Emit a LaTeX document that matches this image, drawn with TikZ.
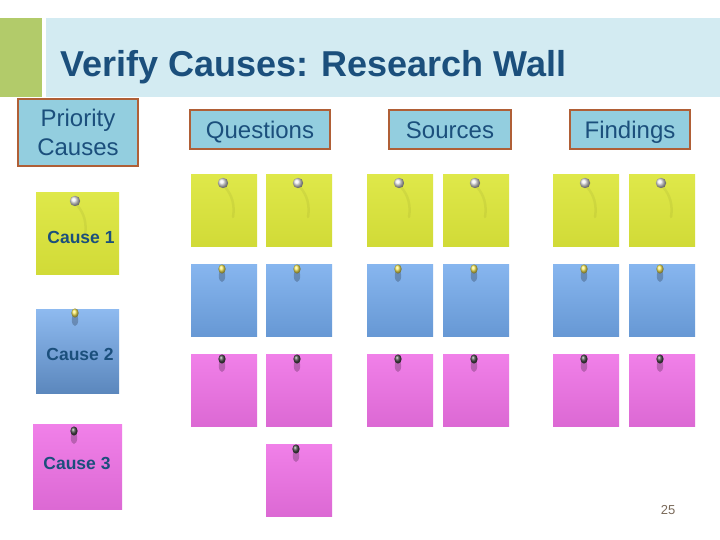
\documentclass[tikz,border=0pt]{standalone}
\usepackage{fontspec}
\setmainfont{Liberation Sans}
\definecolor{titleblue}{HTML}{1B4F7C}
\definecolor{barblue}{HTML}{D3EBF2}
\definecolor{bargreen}{HTML}{B2CB6A}
\definecolor{hdrfill}{HTML}{93CEDF}
\definecolor{hdrborder}{HTML}{B05F36}
\definecolor{noteyel}{HTML}{DCE63A}
\definecolor{noteblue}{HTML}{72A9EC}
\definecolor{notepink}{HTML}{EF72E6}
\definecolor{pagegrey}{HTML}{7A6A5A}
\definecolor{pinyel}{HTML}{F2E65A}
\tikzset{
  hdr/.style={draw=hdrborder, line width=2.5pt, fill=hdrfill, text=titleblue,
    font=\fontsize{24}{29}\selectfont, align=center, inner sep=0pt},
  hdrone/.style={hdr, text height=18pt, text depth=0pt, minimum height=39pt},
  note/.style={minimum width=66pt, minimum height=72pt, inner sep=0pt, anchor=north west},
  yelnote/.style={note, top color=noteyel!92!white, bottom color=noteyel!95!black},
  bluenote/.style={note, top color=noteblue!85!white, bottom color=noteblue!90!black},
  pinknote/.style={note, top color=notepink!90!white, bottom color=notepink!92!black},
  causetext/.style={text=titleblue, font=\bfseries\fontsize{17.5}{20}\selectfont},
  glasspin/.pic={
    \draw[black, opacity=.05, line width=2.5pt, line cap=round] (2,4) .. controls (9,12) and (12,22) .. (10,34);
    \shade[ball color=white!75!gray] (0,0) circle (5.2);
    \fill[white, opacity=.7] (-1,-1) circle (1.8);
  },
  yelpin/.pic={
    \fill[black, opacity=.22] (0,7) ellipse (3.2 and 6);
    \shade[ball color=pinyel] (0,0) ellipse (3.6 and 4.6);
  },
  darkpin/.pic={
    \fill[black, opacity=.22] (0,7) ellipse (3.2 and 6);
    \shade[ball color=black!70] (0,0) ellipse (3.6 and 4.6);
  }
}
\begin{document}
\begin{tikzpicture}[x=1pt,y=-1pt]
\useasboundingbox (0,0) rectangle (720,540);
\fill[white] (0,0) rectangle (720,540);
% title band
\fill[bargreen] (0,18) rectangle (42,97);
\fill[barblue] (46,18) rectangle (720,97);
\node[anchor=base west, text=titleblue, font=\bfseries\fontsize{36}{40}\selectfont, inner sep=0pt] (title) at (60,77) {Verify Causes: Research Wall};
% headers
\node[hdr, minimum width=120pt, minimum height=67pt] (prio) at (78,132.5) {Priority\\Causes};
\node[hdrone, minimum width=140pt] (quest) at (260,129.5) {Questions};
\node[hdrone, minimum width=122pt] (src) at (450,129.5) {Sources};
\node[hdrone, minimum width=120pt] (find) at (630,129.5) {Findings};
% cause notes
\node[yelnote, minimum width=83pt, minimum height=82pt] (c1) at (36,192) {};
\node[causetext] (c1t) at (81,237) {Cause 1};
\pic at (75,201) {glasspin};
\node[bluenote, minimum width=83pt, minimum height=84pt, top color=noteblue!80!white, bottom color=noteblue!80!black] (c2) at (36,309) {};
\node[causetext] (c2t) at (80,354) {Cause 2};
\pic at (75,313) {yelpin};
\node[pinknote, minimum width=89pt, minimum height=85pt] (c3) at (33,424) {};
\node[causetext] (c3t) at (77,463) {Cause 3};
\pic at (74,431) {darkpin};
% grid notes
\foreach \x/\n in {191/a,266/b,367/c,443/d,553/e,629/f}{
  \node[yelnote] (y\n) at (\x,174) {};
  \pic at (\x+32,183) {glasspin};
  \node[bluenote] (b\n) at (\x,264) {};
  \pic at (\x+31,269) {yelpin};
  \node[pinknote] (p\n) at (\x,354) {};
  \pic at (\x+31,359) {darkpin};
}
\node[pinknote] (pextra) at (266,444) {};
\pic at (296,449) {darkpin};
% page number
\node[text=pagegrey, font=\fontsize{13}{15}\selectfont] (page) at (668,510) {25};
\end{tikzpicture}
\end{document}
